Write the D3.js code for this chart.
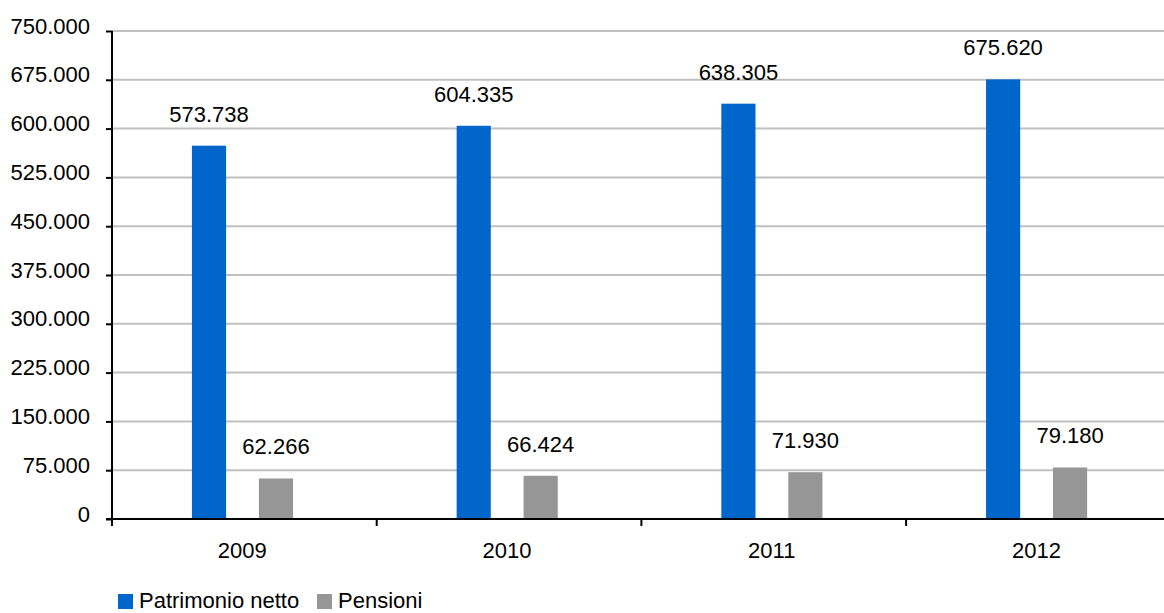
<!DOCTYPE html>
<html>
<head>
<meta charset="utf-8">
<script src="https://cdn.jsdelivr.net/npm/d3@7"></script>
<style>
  html, body { margin: 0; padding: 0; background: #fff; }
  svg { display: block; font-family: "Liberation Sans", Arial, sans-serif; }
</style>
</head>
<body>
<svg id="chart" width="1164" height="613"></svg>
<script>
const years = ["2009", "2010", "2011", "2012"];
const seriesNames = ["Patrimonio netto", "Pensioni"];
const patrimonio = [573738, 604335, 638305, 675620];
const pensioni = [62266, 66424, 71930, 79180];
const yTicks = [0, 75000, 150000, 225000, 300000, 375000, 450000, 525000, 600000, 675000, 750000];
const colors = ["#0066CC", "#969696"];

(function () {
const svg = d3.select("#chart");
const W = 1164;
const mLeft = 112, mTop = 31, mBottom = 519;
const bandStep = 264.7;

const loc = d3.formatLocale({ decimal: ",", thousands: ".", grouping: [3], currency: ["", ""] });
const fmt = loc.format(",d");

const x0 = d3.scaleBand().domain(years).range([mLeft, mLeft + bandStep * years.length]).padding(0);
const bw = x0.bandwidth();
const x1 = d3.scaleBand().domain(seriesNames).range([bw * 0.302, bw * 0.684]).paddingInner(0.49).paddingOuter(0);
const y = d3.scaleLinear().domain([0, 750000]).range([mBottom, mTop]);

// gridlines
svg.append("g").selectAll("line").data(yTicks.filter(d => d > 0)).join("line")
  .attr("x1", mLeft).attr("x2", W)
  .attr("y1", d => y(d)).attr("y2", d => y(d))
  .attr("stroke", "#c0c0c0").attr("stroke-width", 2);

// bars
const data = years.map((yr, i) => ({ year: yr, values: [patrimonio[i], pensioni[i]] }));
const groups = svg.append("g").selectAll("g").data(data).join("g")
  .attr("transform", d => `translate(${x0(d.year)},0)`);
groups.selectAll("rect").data(d => d.values.map((v, j) => ({ v, s: seriesNames[j], j }))).join("rect")
  .attr("x", d => x1(d.s)).attr("width", x1.bandwidth())
  .attr("y", d => y(d.v)).attr("height", d => y(0) - y(d.v))
  .attr("fill", d => colors[d.j]);
groups.selectAll("text").data(d => d.values.map((v, j) => ({ v, s: seriesNames[j], j }))).join("text")
  .attr("x", d => x1(d.s) + x1.bandwidth() / 2)
  .attr("y", d => y(d.v) - 24)
  .attr("text-anchor", "middle")
  .attr("font-size", 22).attr("fill", "#000")
  .text(d => fmt(d.v));

// y axis
const yAxis = svg.append("g").attr("transform", `translate(${mLeft},0)`)
  .call(d3.axisLeft(y).tickValues(yTicks).tickSize(6).tickPadding(16).tickFormat(d => fmt(d)));
yAxis.select(".domain").attr("stroke", "#000").attr("stroke-width", 2).attr("d", `M0,${mTop}V${mBottom + 1}`);
yAxis.selectAll(".tick line").attr("stroke", "#000").attr("stroke-width", 2);
yAxis.selectAll(".tick text").attr("font-size", 22).attr("fill", "#000")
  .attr("font-family", "Liberation Sans, Arial, sans-serif").attr("dy", 2);

// x axis
const xAxis = svg.append("g").attr("transform", `translate(0,${mBottom})`);
xAxis.append("line").attr("x1", mLeft - 6).attr("x2", W).attr("y1", 0).attr("y2", 0)
  .attr("stroke", "#000").attr("stroke-width", 2);
xAxis.selectAll("line.tk").data(years).join("line").attr("class", "tk")
  .attr("x1", d => x0(d)).attr("x2", d => x0(d)).attr("y1", 0).attr("y2", 7)
  .attr("stroke", "#000").attr("stroke-width", 2);
xAxis.selectAll("text").data(years).join("text")
  .attr("x", d => x0(d) + bw / 2 - 2).attr("y", 39)
  .attr("text-anchor", "middle").attr("font-size", 22).attr("fill", "#000")
  .text(d => d);

// legend
const legX = [118, 317];
const leg = svg.append("g").selectAll("g").data(seriesNames).join("g")
  .attr("transform", (d, i) => `translate(${legX[i]},594)`);
leg.append("rect").attr("width", 15).attr("height", 15).attr("fill", (d, i) => colors[i]);
leg.append("text").attr("x", 21).attr("y", 14).attr("font-size", 22).attr("fill", "#000").text(d => d);
})();
</script>
</body>
</html>
